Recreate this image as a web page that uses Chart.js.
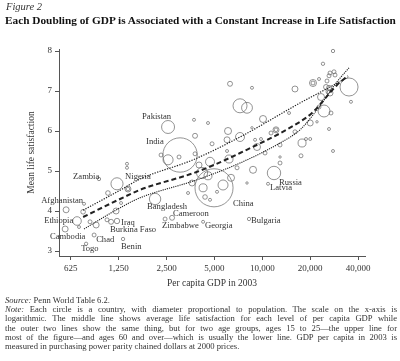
<!DOCTYPE html>
<html>
<head>
<meta charset="utf-8">
<script src="https://cdn.jsdelivr.net/npm/chart.js@4.4.0/dist/chart.umd.min.js"></script>
<style>
  body { margin: 0; width: 400px; height: 361px; overflow: hidden; background: #fff; font-family: "Liberation Serif", serif; color: #222; }
  #chart { position: absolute; left: 0; top: 0; }
  .fig { position: absolute; left: 6px; top: 1px; font-style: italic; font-size: 10.5px; color: #333; }
  .title { position: absolute; left: 5px; top: 14px; font-weight: bold; font-size: 11.3px; white-space: nowrap; color: #111; }
  .notes { position: absolute; left: 5px; top: 296px; width: 392px; font-size: 8.6px; line-height: 9.2px; color: #333; }
  .notes div { text-align: justify; text-align-last: justify; white-space: nowrap; }
  .notes div.last { text-align-last: left; }
</style>
</head>
<body>
<canvas id="chart" width="400" height="361"></canvas>
<div class="fig">Figure 2</div>
<div class="title">Each Doubling of GDP is Associated with a Constant Increase in Life Satisfaction</div>
<div class="notes">
  <div class="last"><i>Source:</i> Penn World Table 6.2.</div>
  <div><i>Note:</i> Each circle is a country, with diameter proportional to population. The scale on the x-axis is</div>
  <div>logarithmic. The middle line shows average life satisfaction for each level of per capita GDP while</div>
  <div>the outer two lines show the same thing, but for two age groups, ages 15 to 25—the upper line for</div>
  <div>most of the figure—and ages 60 and over—which is usually the lower line. GDP per capita in 2003 is</div>
  <div class="last">measured in purchasing power parity chained dollars at 2000 prices.</div>
</div>
<script>
  // countries: per capita GDP 2003, mean life satisfaction, population (millions)
  let gdp = [940, 1220, 1410, 1410, 1430, 1430, 1070, 757, 584, 747, 684, 826, 902, 1056, 1120, 1220, 1204, 1294,
    576, 876, 780, 1332, 704, 2117, 2447, 2707, 4242, 8250, 10860, 11840, 4970, 3040, 2555, 2308, 2555, 2995,
    3720, 4555, 3776, 3776, 4830, 6086, 6000, 7240, 6000, 6176, 6936, 6355, 5662, 8010, 8740, 10400, 9260, 9000,
    9810, 10100, 8610, 8610, 6265, 16040, 7240, 8010, 12190, 12190, 11340, 12920, 14720, 16040, 17770, 18820,
    20000, 17500, 12920, 12920, 27820, 20000, 22060, 26260, 24420, 27020, 22720, 20820, 20820, 22720, 23380,
    26640, 25140, 26260, 25880, 25500, 26640, 28220, 26260, 28640, 24060, 27820, 35080, 36080, 4180, 4555,
    4690, 4000, 3617, 4242, 4364, 4690, 5190, 3412];
  let lifeSat = [4.8, 4.68, 5.18, 5.08, 4.55, 4.55, 4.45, 4.18, 4.03, 3.98, 3.75, 3.73, 3.65, 3.78, 3.73, 3.75, 4.0, 4.2,
    3.55, 3.4, 3.18, 3.3, 3.6, 4.3, 3.8, 3.83, 3.73, 3.8, 4.68, 4.95, 4.58, 5.4, 6.1, 5.4, 5.28, 5.35,
    6.28, 6.2, 5.88, 5.43, 5.68, 6.0, 5.78, 5.85, 5.5, 5.3, 5.08, 4.83, 4.65, 4.7, 5.03, 5.45, 5.6, 5.78,
    5.8, 6.3, 6.08, 7.08, 7.18, 7.05, 6.63, 6.58, 6.03, 6.03, 5.95, 5.65, 6.45, 5.98, 5.7, 5.8,
    5.8, 5.38, 5.35, 5.2, 5.5, 6.2, 6.23, 6.05, 6.5, 6.45, 6.6, 7.2, 7.2, 7.3, 6.85,
    6.95, 7.1, 7.08, 6.98, 7.25, 7.45, 7.48, 7.38, 7.4, 7.68, 8.0, 7.1, 6.73, 4.95, 4.88,
    5.23, 5.15, 4.7, 4.58, 4.35, 4.28, 4.48, 4.45];
  let population = [10, 130, 8, 8, 32, 12, 19, 8, 32, 19, 66, 14, 32, 14, 22, 26, 32, 8,
    32, 14, 10, 10, 8, 115, 14, 22, 8, 10, 8, 160, 1290, 1050, 150, 14, 90, 14,
    8, 8, 22, 14, 14, 44, 32, 72, 8, 57, 14, 44, 89, 4, 44, 14, 44, 8,
    8, 44, 5, 8, 22, 32, 175, 105, 32, 12, 14, 14, 8, 14, 57, 8,
    8, 14, 4, 14, 8, 32, 4, 8, 127, 14, 14, 44, 14, 8, 44,
    32, 22, 22, 14, 14, 14, 14, 14, 14, 10, 10, 290, 8, 110, 57,
    72, 32, 32, 57, 19, 8, 8, 8];

  // smoothed lines: ages 15-25, all ages, ages 60+
  let youngGdp = [747, 1276, 1704, 3669, 7242, 17250, 26640, 34560];
  let youngLs = [4.02, 4.52, 4.8, 5.28, 5.85, 6.7, 7.1, 7.35];
  let allGdp = [747, 1276, 1704, 3888, 7242, 17250, 20530, 29480, 34560];
  let allLs = [3.85, 4.3, 4.53, 4.98, 5.45, 6.23, 6.45, 7.15, 7.38];
  let oldGdp = [757, 1276, 1704, 3888, 7242, 12920, 17250, 22070, 29480, 35060];
  let oldLs = [3.55, 4.08, 4.33, 4.78, 5.2, 5.7, 6.03, 6.53, 7.23, 7.58];

  let countryNames = ["Pakistan", "India", "Nigeria", "Zambia", "Afghanistan", "Ethiopia", "Cambodia", "Chad", "Togo",
    "Iraq", "Burkina Faso", "Benin", "Bangladesh", "Cameroon", "Zimbabwe", "Georgia", "China", "Bulgaria", "Russia", "Latvia"];
  let nameGdp = [1753, 1858, 1371, 646, 407, 425, 463, 902, 726, 1294, 1103, 1294, 1885, 2747, 2342, 4364, 6545, 8490, 12730, 11180];
  let nameLs = [6.35, 5.725, 4.85, 4.85, 4.25, 3.75, 3.35, 3.275, 3.05, 3.7, 3.525, 3.1, 4.1, 3.925, 3.625, 3.625, 4.175, 3.75, 4.7, 4.575];

  let xTicks = [625, 1250, 2500, 5000, 10000, 20000, 40000];
  let yTicks = [3, 4, 5, 6, 7, 8];

  let serif = "'Liberation Serif', serif";

  let bubbles = gdp.map((g, i) => ({ x: g, y: lifeSat[i], r: Math.max(1.2, 0.53 * Math.sqrt(population[i])) }));
  let toPoints = (xs, ys) => xs.map((x, i) => ({ x: x, y: ys[i] }));

  let countryLabels = {
    id: "countryLabels",
    afterDatasetsDraw(chart) {
      let ctx = chart.ctx;
      let xs = chart.scales.x, ys = chart.scales.y;
      ctx.save();
      ctx.font = "8.6px " + serif;
      ctx.fillStyle = "#333";
      ctx.textAlign = "left";
      ctx.textBaseline = "middle";
      countryNames.forEach((name, i) => {
        ctx.fillText(name, xs.getPixelForValue(nameGdp[i]), ys.getPixelForValue(nameLs[i]));
      });
      ctx.restore();
    }
  };

  let lineStyle = (data, dash, width) => ({
    type: "line",
    data: data,
    borderColor: "#222",
    borderWidth: width,
    borderDash: dash,
    pointRadius: 0,
    fill: false,
    cubicInterpolationMode: "monotone",
  });

  new Chart(document.getElementById("chart"), {
    type: "bubble",
    data: {
      datasets: [
        lineStyle(toPoints(allGdp, allLs), [5, 3], 2),
        lineStyle(toPoints(youngGdp, youngLs), [1.3, 1.3], 1.2),
        lineStyle(toPoints(oldGdp, oldLs), [1.2, 1], 1.1),
        {
          data: bubbles,
          backgroundColor: "rgba(0,0,0,0)",
          borderColor: "#666",
          borderWidth: 0.7,
          clip: false,
        },
      ],
    },
    options: {
      responsive: false,
      animation: false,
      layout: { padding: { top: 49, right: 35, left: 0, bottom: 0 } },
      plugins: { legend: { display: false }, tooltip: { enabled: false } },
      scales: {
        x: {
          type: "logarithmic",
          min: 527,
          max: 44200,
          afterBuildTicks: axis => { axis.ticks = xTicks.map(v => ({ value: v })); },
          afterFit: axis => { axis.height = 105; },
          ticks: {
            autoSkip: false,
            maxRotation: 0,
            padding: 3,
            color: "#333",
            font: { family: serif, size: 9 },
            callback: v => v.toLocaleString("en-US"),
          },
          grid: { drawOnChartArea: false, drawTicks: true, tickLength: 4, color: "#555" },
          border: { display: true, color: "#555", width: 1 },
          title: {
            display: true,
            text: "Per capita GDP in 2003",
            color: "#333",
            font: { family: serif, size: 9.5 },
            padding: { top: 0, bottom: 72 },
          },
        },
        y: {
          min: 2.875,
          max: 8.05,
          afterBuildTicks: axis => { axis.ticks = yTicks.map(v => ({ value: v })); },
          afterFit: axis => { axis.width = 59; },
          ticks: { padding: 3, color: "#333", font: { family: serif, size: 9 } },
          grid: { drawOnChartArea: false, drawTicks: true, tickLength: 4, color: "#555" },
          border: { display: true, color: "#555", width: 1 },
          title: {
            display: true,
            text: "Mean life satisfaction",
            color: "#333",
            font: { family: serif, size: 9.5 },
            padding: { top: 26, bottom: 0 },
          },
        },
      },
    },
    plugins: [countryLabels],
  });
</script>
</body>
</html>
